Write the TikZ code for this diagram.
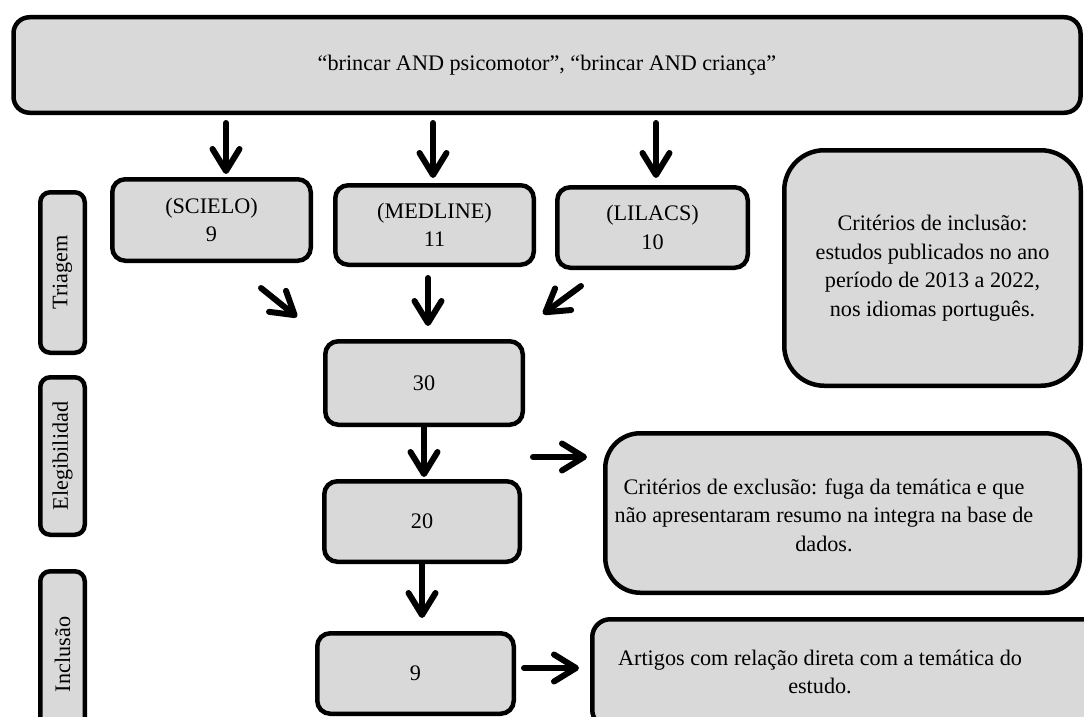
\documentclass[tikz,border=0pt]{standalone}
\usepackage{fontspec}
\setmainfont{Liberation Serif}
\usetikzlibrary{arrows.meta}
\definecolor{boxgray}{HTML}{D9D9D9}
\tikzset{
  box/.style={draw=black, fill=boxgray, line width=4.5pt, rounded corners=#1,
    inner sep=0pt, align=center, font=\fontsize{22.2}{28.5}\selectfont},
  box/.default=13pt,
  txt/.style={inner sep=0pt, align=center, font=\fontsize{22.2}{28.5}\selectfont},
  arr/.style={line width=6pt, line cap=round,
    -{Straight Barb[length=22pt,width=27pt,round]}},
}
\begin{document}
\begin{tikzpicture}[x=1pt,y=-1pt]
\useasboundingbox (0,0) rectangle (1084,717);
\clip (0,0) rectangle (1084,717);
% top search box
\node[box=16pt, minimum width=1067pt, minimum height=95.5pt] (top) at (547,65)
  {\raisebox{-2pt}{“brincar AND psicomotor”, “brincar AND criança”}};
% stage labels
\node[box=10pt, rotate=90, minimum width=160.5pt, minimum height=44.5pt] (triagem) at (62.5,272.5) {Triagem};
\node[box=10pt, rotate=90, minimum width=157.5pt, minimum height=44.5pt] (eleg) at (62.5,456) {Elegibilidad};
\node[box=10pt, rotate=90, minimum width=166.5pt, minimum height=44.5pt] (inclu) at (62.5,654.5) {Inclusão};
% databases
\node[box, minimum width=198.5pt, minimum height=81.5pt] (scielo) at (211.5,220) {(SCIELO)\\9};
\node[box, minimum width=198.5pt, minimum height=79.5pt] (medline) at (434.5,225) {(MEDLINE)\\11};
\node[box, minimum width=190.5pt, minimum height=80.5pt] (lilacs) at (652.5,227.5) {(LILACS)\\10};
% inclusion criteria
\node[box=40pt, minimum width=296.5pt, minimum height=235.5pt] (incl) at (932.5,268)
  {Critérios de inclusão:\\estudos publicados no ano\\período de 2013 a 2022,\\nos idiomas português.};
% counts
\node[box, minimum width=197.5pt, minimum height=83.5pt] (n30) at (424,383) {30};
\node[box, minimum width=195.5pt, minimum height=80.5pt] (n20) at (422,521.5) {20};
\node[box, minimum width=196.5pt, minimum height=80.5pt] (n9) at (415.5,673.5) {9};
% exclusion criteria
\node[box=35pt, minimum width=474.5pt, minimum height=159.5pt] (excl) at (842.5,513) {};
\node[txt] (excltxt) at (824,515)
  {Critérios de exclusão: fuga da temática e que\\não apresentaram resumo na integra na base de\\dados.};
% articles
\node[box=18pt, minimum width=515.5pt, minimum height=108.5pt] (art) at (850,673.5) {};
\node[txt] (arttxt) at (820,672)
  {Artigos com relação direta com a temática do\\estudo.};
% arrow end points
\coordinate (s1) at (226,123);  \coordinate (e1) at (226,174);
\coordinate (s2) at (433,123);  \coordinate (e2) at (433,178);
\coordinate (s3) at (656,123);  \coordinate (e3) at (656,178);
\coordinate (s4) at (261,288);  \coordinate (e4) at (297,317);
\coordinate (s5) at (428,278);  \coordinate (e5) at (428,326);
\coordinate (s6) at (581,286);  \coordinate (e6) at (543,314);
\coordinate (s9) at (533,457);  \coordinate (e9) at (587,457);
\coordinate (s10) at (524,668); \coordinate (e10) at (579,668);
\draw[arr] (s1) -- (e1);
\draw[arr] (s2) -- (e2);
\draw[arr] (s3) -- (e3);
\draw[arr] (s4) -- (e4);
\draw[arr] (s5) -- (e5);
\draw[arr] (s6) -- (e6);
\draw[arr] (n30.south) -- ([yshift=2pt]n30.south |- n20.north);
\draw[arr] (n20.south) -- ([yshift=13pt]n20.south |- n9.north);
\draw[arr] (s9) -- (e9);
\draw[arr] (s10) -- (e10);
\end{tikzpicture}
\end{document}
